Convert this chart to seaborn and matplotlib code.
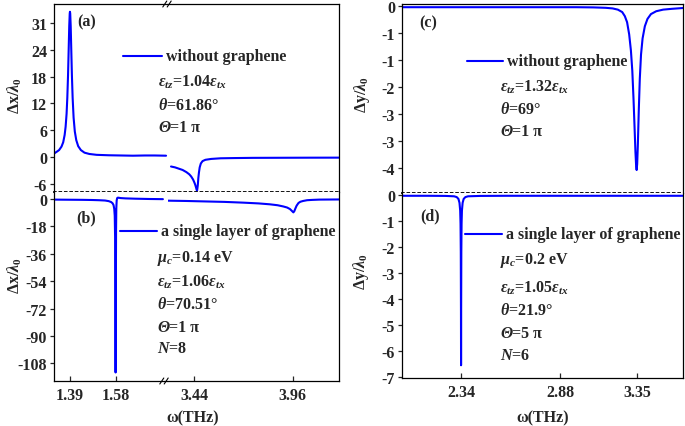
import numpy as np
import matplotlib
matplotlib.use("Agg")
import matplotlib.pyplot as plt
from matplotlib.lines import Line2D
import seaborn as sns

W, H = 685, 427
BLUE = "#0000ff"

# (a) x-shift, without graphene (broken axis: left and right parts)
a_left_x = [1.324, 1.335, 1.345, 1.355, 1.362, 1.368, 1.372, 1.376, 1.379, 1.382,
            1.385, 1.387, 1.389, 1.390, 1.391, 1.393, 1.395, 1.398, 1.401, 1.405,
            1.410, 1.416, 1.424, 1.435, 1.450, 1.47, 1.50, 1.55, 1.60, 1.65, 1.70,
            1.74, 1.787]
a_left_y = [0.8, 1.2, 1.6, 2.4, 3.4, 5.1, 7.0, 10.0, 13.7, 18.9,
            25.7, 30.3, 33.2, 33.6, 33.2, 30.3, 25.7, 18.9, 13.7, 9.1,
            5.9, 3.9, 2.5, 1.6, 1.0, 0.7, 0.5, 0.4, 0.35, 0.3, 0.35,
            0.35, 0.3]
a_right_x = [3.319, 3.34, 3.36, 3.38, 3.40, 3.415, 3.425, 3.435, 3.442, 3.447,
             3.451, 3.454, 3.456, 3.458, 3.460, 3.463, 3.466, 3.470, 3.476, 3.485,
             3.50, 3.53, 3.58, 3.65, 3.75, 3.90, 4.05, 4.203]
a_right_y = [-2.2, -2.4, -2.7, -3.0, -3.5, -4.0, -4.5, -5.2, -5.9, -6.5,
             -7.1, -7.6, -7.8, -7.2, -6.5, -4.8, -3.6, -2.4, -1.5, -0.95,
             -0.65, -0.45, -0.3, -0.25, -0.2, -0.18, -0.16, -0.15]

# (b) x-shift, a single layer of graphene
b_left_x = [1.324, 1.36, 1.40, 1.44, 1.48, 1.51, 1.535, 1.550, 1.560, 1.566,
            1.570, 1.573, 1.575, 1.5765, 1.5775, 1.5785, 1.5795, 1.5805, 1.5815, 1.583,
            1.585, 1.588, 1.592, 1.60, 1.62, 1.66, 1.72, 1.774]
b_left_y = [-0.4, -0.45, -0.5, -0.55, -0.65, -0.8, -1.0, -1.4, -2.0, -2.8,
            -4.0, -6.5, -11, -25, -60, -114, -60, -20, -6, -1.0,
            0.6, 0.9, 0.8, 0.6, 0.4, 0.2, 0.0, -0.1]
b_right_x = [3.303, 3.40, 3.50, 3.60, 3.70, 3.78, 3.84, 3.88, 3.91, 3.93,
             3.945, 3.955, 3.963, 3.968, 3.973, 3.98, 3.99, 4.00, 4.014, 4.035,
             4.06, 4.10, 4.15, 4.203]
b_right_y = [-1.1, -1.3, -1.6, -1.9, -2.4, -2.9, -3.5, -4.1, -4.9, -5.6,
             -6.6, -7.8, -8.8, -8.0, -6.4, -4.4, -2.6, -1.8, -1.3, -0.8,
             -0.6, -0.4, -0.35, -0.3]

# (c) y-shift, without graphene
c_x = [2.00, 2.20, 2.40, 2.60, 2.80, 3.00, 3.10, 3.17, 3.21, 3.24,
       3.265, 3.28, 3.293, 3.305, 3.315, 3.323, 3.330, 3.336, 3.341, 3.345,
       3.348, 3.351, 3.355, 3.360, 3.366, 3.373, 3.382, 3.395, 3.41, 3.43,
       3.46, 3.50, 3.55, 3.614]
c_y = [-0.03, -0.03, -0.03, -0.03, -0.03, -0.03, -0.035, -0.045, -0.06, -0.09,
       -0.15, -0.25, -0.4, -0.7, -1.1, -1.6, -2.3, -3.0, -3.6, -3.95,
       -4.05, -3.9, -3.4, -2.6, -1.8, -1.2, -0.8, -0.5, -0.32, -0.2,
       -0.13, -0.09, -0.07, -0.05]

# (d) y-shift, a single layer of graphene
d_x = [2.00, 2.15, 2.25, 2.30, 2.315, 2.325, 2.331, 2.335, 2.337, 2.3385,
       2.3395, 2.340, 2.3405, 2.3415, 2.343, 2.345, 2.349, 2.355, 2.365, 2.38,
       2.45, 2.60, 2.80, 3.00, 3.20, 3.40, 3.614]
d_y = [-0.03, -0.03, -0.035, -0.05, -0.08, -0.15, -0.3, -0.6, -1.1, -2.2,
       -4.5, -6.55, -4.5, -2.2, -1.1, -0.6, -0.3, -0.15, -0.08, -0.05,
       -0.035, -0.03, -0.03, -0.03, -0.03, -0.03, -0.03]

# tick values and labels
a_yticks = [-6.2, 0, 6.2, 12.4, 18.6, 24.8, 31]
a_ylabels = ["-6", "0", "6", "12", "18", "24", "31"]
b_yticks = [0, -18, -36, -54, -72, -90, -108]
c_yticks = [0, -2 / 3, -4 / 3, -2, -8 / 3, -10 / 3, -4]
c_ylabels = ["0", "-1", "-1", "-2", "-3", "-3", "-4"]
d_yticks = [0, -1, -2, -3, -4, -5, -6, -7]
left_xticks_lo = [1.39, 1.58]
left_xticks_hi = [3.44, 3.96]
right_xticks = [2.34, 2.908, 3.35]
right_xlabels = ["2.34", "2.88", "3.35"]

sns.set_theme(style="ticks")
plt.rcParams["font.family"] = ["Liberation Serif", "DejaVu Serif"]
plt.rcParams["font.weight"] = "bold"
plt.rcParams["mathtext.fontset"] = "custom"
plt.rcParams["mathtext.rm"] = "Liberation Serif:bold"
plt.rcParams["mathtext.bf"] = "Liberation Serif:bold"
plt.rcParams["mathtext.it"] = "Liberation Serif:italic"
plt.rcParams["axes.linewidth"] = 0.9
plt.rcParams["axes.edgecolor"] = "black"

FS = 11.5
DOT = (0, (1, 2))

fig = plt.figure(figsize=(W / 100, H / 100), dpi=100)


def add_ax(x0, x1, y0, y1):
    return fig.add_axes([x0 / W, 1 - y1 / H, (x1 - x0) / W, (y1 - y0) / H])


def style(ax, left=True, right=True, top=True, bottom=True):
    for side, on in (("left", left), ("right", right), ("top", top), ("bottom", bottom)):
        ax.spines[side].set_visible(on)
        ax.spines[side].set_color("black")
    ax.tick_params(axis="x", direction="in", length=3.5, width=0.9, labelsize=FS, pad=4)
    ax.tick_params(axis="y", direction="out", length=3, width=0.9, labelsize=FS, pad=2)
    ax.set_xlabel("")
    ax.set_ylabel("")


def curve(ax, xs, ys):
    sns.lineplot(x=xs, y=ys, ax=ax, color=BLUE, linewidth=1.5, estimator=None, sort=False)


def ftext(x, y, s, **kw):
    fig.text(x / W, 1 - y / H, s, fontsize=FS, fontweight="bold", va="center", **kw)


def theta_cap(x, y, rest):
    # italic capital Theta followed by the value
    ftext(x, y, "Θ", style="italic")
    ftext(x + 12, y, rest)


def legline(x0, x1, y):
    fig.add_artist(Line2D([x0 / W, x1 / W], [1 - y / H, 1 - y / H], color=BLUE, lw=1.5))


def slashes(xc, y):
    for dx in (-2.2, 2.2):
        fig.add_artist(Line2D([(xc + dx - 2) / W, (xc + dx + 2) / W],
                              [1 - (y + 3) / H, 1 - (y - 3) / H], color="black", lw=0.8))


LX0, LXB, LX1 = 54, 167.5, 339
RX0, RX1 = 402, 683
ax_lim_lo = (1.324, 1.324 + (LXB - LX0) / 242)
ax_lim_hi = (3.44 - (194 - LXB) / 190, 3.44 - (194 - LXB) / 190 + (LX1 - LXB) / 190)

# panel (a)
a1 = add_ax(LX0, LXB, 5, 193)
a2 = add_ax(LXB, LX1, 5, 193)
curve(a1, a_left_x, a_left_y)
curve(a2, a_right_x, a_right_y)
for ax in (a1, a2):
    ax.set_ylim(-8.1, 35.4)
    ax.set_xticks([])
a1.set_xlim(*ax_lim_lo)
a2.set_xlim(*ax_lim_hi)
style(a1, right=False)
style(a2, left=False)
a1.set_yticks(a_yticks, a_ylabels)
a2.set_yticks([])
for ax in (a1, a2):
    ax.spines["bottom"].set_linestyle(DOT)
    ax.spines["bottom"].set_linewidth(1.3)

# panel (b)
b1 = add_ax(LX0, LXB, 193, 382)
b2 = add_ax(LXB, LX1, 193, 382)
curve(b1, b_left_x, b_left_y)
curve(b2, b_right_x, b_right_y)
for ax in (b1, b2):
    ax.set_ylim(-119.6, 4.6)
b1.set_xlim(*ax_lim_lo)
b2.set_xlim(*ax_lim_hi)
style(b1, right=False, top=False)
style(b2, left=False, top=False)
b1.set_xticks(left_xticks_lo, [f"{v:.2f}" for v in left_xticks_lo])
b2.set_xticks(left_xticks_hi, [f"{v:.2f}" for v in left_xticks_hi])
b1.set_yticks(b_yticks, [str(v) for v in b_yticks])
b2.set_yticks([])

# panel (c)
c = add_ax(RX0, RX1, 5, 194)
curve(c, c_x, c_y)
c.set_xlim(2.001, 3.614)
c.set_ylim(-4.617, 0.049)
style(c)
c.set_xticks([])
c.set_yticks(c_yticks, c_ylabels)
c.spines["bottom"].set_linestyle(DOT)
c.spines["bottom"].set_linewidth(1.3)

# panel (d)
d = add_ax(RX0, RX1, 194, 379)
curve(d, d_x, d_y)
d.set_xlim(2.001, 3.614)
d.set_ylim(-7.04, 0.077)
style(d, top=False)
d.set_xticks(right_xticks, right_xlabels)
d.set_yticks(d_yticks, [str(v) for v in d_yticks])

# break marks
slashes(167, 5)
slashes(164, 382)

# axis labels
for (x, y, s) in ((15, 96, r"$\Delta$x/$\lambda_0$"), (15, 276, r"$\Delta$x/$\lambda_0$"),
                  (362, 95, r"$\Delta$y/$\lambda_0$"), (361, 272, r"$\Delta$y/$\lambda_0$")):
    fig.text(x / W, 1 - y / H, s, rotation=90, fontsize=FS, fontweight="bold",
             ha="center", va="center")
fig.text(193 / W, 1 - 418 / H, "ω(THz)", fontsize=FS, fontweight="bold", ha="center", va="center")
fig.text(543 / W, 1 - 418 / H, "ω(THz)", fontsize=FS, fontweight="bold", ha="center", va="center")

# panel (a) annotations
ftext(87, 22, "(a)", ha="center")
legline(123, 162, 57)
ftext(166, 57, "without graphene")
ftext(158, 82, r"$\varepsilon_{tz}$=1.04$\varepsilon_{tx}$")
ftext(158, 106, r"$\theta$=61.86°")
theta_cap(158, 128, "=1 π")

# panel (b) annotations
ftext(86, 218, "(b)", ha="center")
legline(120, 157, 232)
ftext(161, 232, "a single layer of graphene")
ftext(157, 258, r"$\mu_c$=0.14 eV")
ftext(157, 282, r"$\varepsilon_{tz}$=1.06$\varepsilon_{tx}$")
ftext(157, 305, r"$\theta$=70.51°")
theta_cap(157, 328, "=1 π")
ftext(157, 349, r"$N$=8")

# panel (c) annotations
ftext(428, 23, "(c)", ha="center")
legline(467, 503, 62)
ftext(507, 62, "without graphene")
ftext(500, 87, r"$\varepsilon_{tz}$=1.32$\varepsilon_{tx}$")
ftext(500, 110, r"$\theta$=69°")
theta_cap(500, 132, "=1 π")

# panel (d) annotations
ftext(430, 216, "(d)", ha="center")
legline(465, 502, 235)
ftext(506, 235, "a single layer of graphene")
ftext(500, 261, r"$\mu_c$=0.2 eV")
ftext(500, 288, r"$\varepsilon_{tz}$=1.05$\varepsilon_{tx}$")
ftext(500, 311, r"$\theta$=21.9°")
theta_cap(500, 334, "=5 π")
ftext(500, 356, r"$N$=6")

fig.savefig("out.png", dpi=100)
